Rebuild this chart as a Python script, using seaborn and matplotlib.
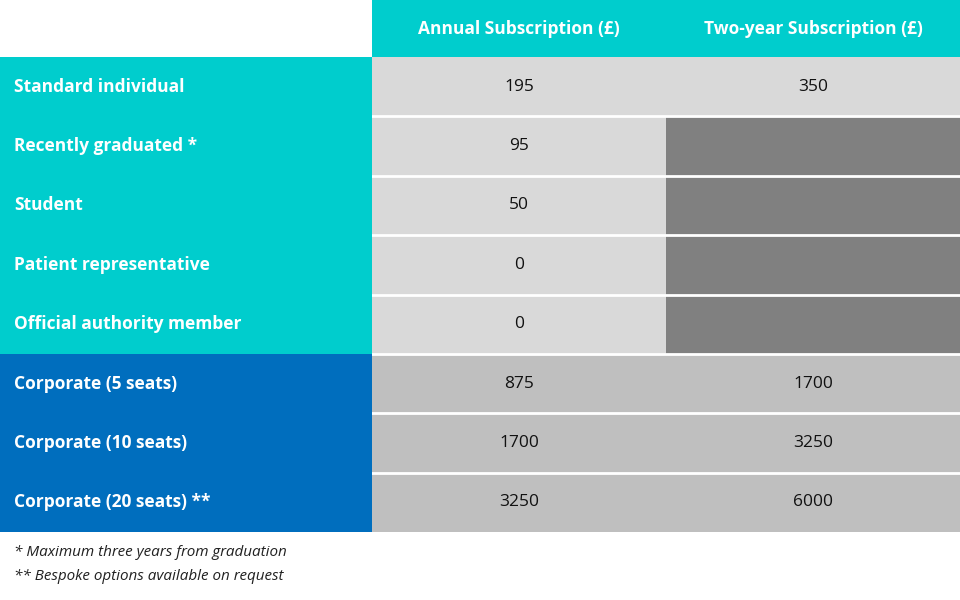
import numpy as np
import matplotlib
matplotlib.use("Agg")
import matplotlib.pyplot as plt
from matplotlib.colors import ListedColormap
import seaborn as sns

ROWS = ["Standard individual", "Recently graduated *", "Student",
        "Patient representative", "Official authority member",
        "Corporate (5 seats)", "Corporate (10 seats)", "Corporate (20 seats) **"]
COLUMNS = ["Annual Subscription (£)", "Two-year Subscription (£)"]
ANNUAL = [195, 95, 50, 0, 0, 875, 1700, 3250]
TWO_YEAR = [350, None, None, None, None, 1700, 3250, 6000]
IS_CORPORATE = [False] * 5 + [True] * 3
FOOTNOTES = ["* Maximum three years from graduation",
             "** Bespoke options available on request"]

TEAL = "#00CDCD"
BLUE = "#006EBE"
LIGHT = "#D9D9D9"
DARK = "#808080"
MID = "#BFBFBF"
FONT = "Open Sans"

W, H = 960, 600
top, bottom = 57, 532
split = 372

fig = plt.figure(figsize=(9.6, 6), dpi=100)

# value codes: 0 light, 1 empty(dark), 2 corporate(mid)
codes = np.zeros((len(ROWS), 2))
annot = np.empty((len(ROWS), 2), dtype=object)
for i, (a, t, corp) in enumerate(zip(ANNUAL, TWO_YEAR, IS_CORPORATE)):
    base = 2 if corp else 0
    codes[i, 0] = base
    annot[i, 0] = str(a)
    codes[i, 1] = 1 if t is None else base
    annot[i, 1] = "" if t is None else str(t)

ax_v = fig.add_axes([split / W, 1 - bottom / H, 1 - split / W, (bottom - top) / H])
sns.heatmap(codes, ax=ax_v, cmap=ListedColormap([LIGHT, DARK, MID]), vmin=-0.5, vmax=2.5,
            cbar=False, annot=annot, fmt="",
            annot_kws=dict(fontsize=12.5, color="#111111", family=FONT))
for k in range(1, len(ROWS)):
    ax_v.axhline(k, color="white", lw=2)
ax_v.set_xticks([]); ax_v.set_yticks([])

lab_codes = np.array([[1 if c else 0] for c in IS_CORPORATE])
ax_l = fig.add_axes([0, 1 - bottom / H, split / W, (bottom - top) / H])
sns.heatmap(lab_codes, ax=ax_l, cmap=ListedColormap([TEAL, BLUE]), vmin=-0.5, vmax=1.5,
            cbar=False)
for i, name in enumerate(ROWS):
    ax_l.text(0.038, i + 0.5, name, ha="left", va="center", color="white",
              fontsize=12.5, fontweight="bold", family=FONT)
ax_l.set_xticks([]); ax_l.set_yticks([])

# header band
ax_h = fig.add_axes([split / W, 1 - top / H, 1 - split / W, top / H])
sns.heatmap(np.zeros((1, 2)), ax=ax_h, cmap=ListedColormap([TEAL]), cbar=False)
for j, col in enumerate(COLUMNS):
    ax_h.text(j + 0.5, 0.5, col, ha="center", va="center", color="white",
              fontsize=12.5, fontweight="bold", family=FONT)
ax_h.set_xticks([]); ax_h.set_yticks([])

for k, note in enumerate(FOOTNOTES):
    fig.text(14 / W, 1 - (553 + 24 * k) / H, note, ha="left", va="center",
             fontsize=11, style="italic", color="#222222", family=FONT)

plt.savefig("out.png", dpi=100)
plt.close()
